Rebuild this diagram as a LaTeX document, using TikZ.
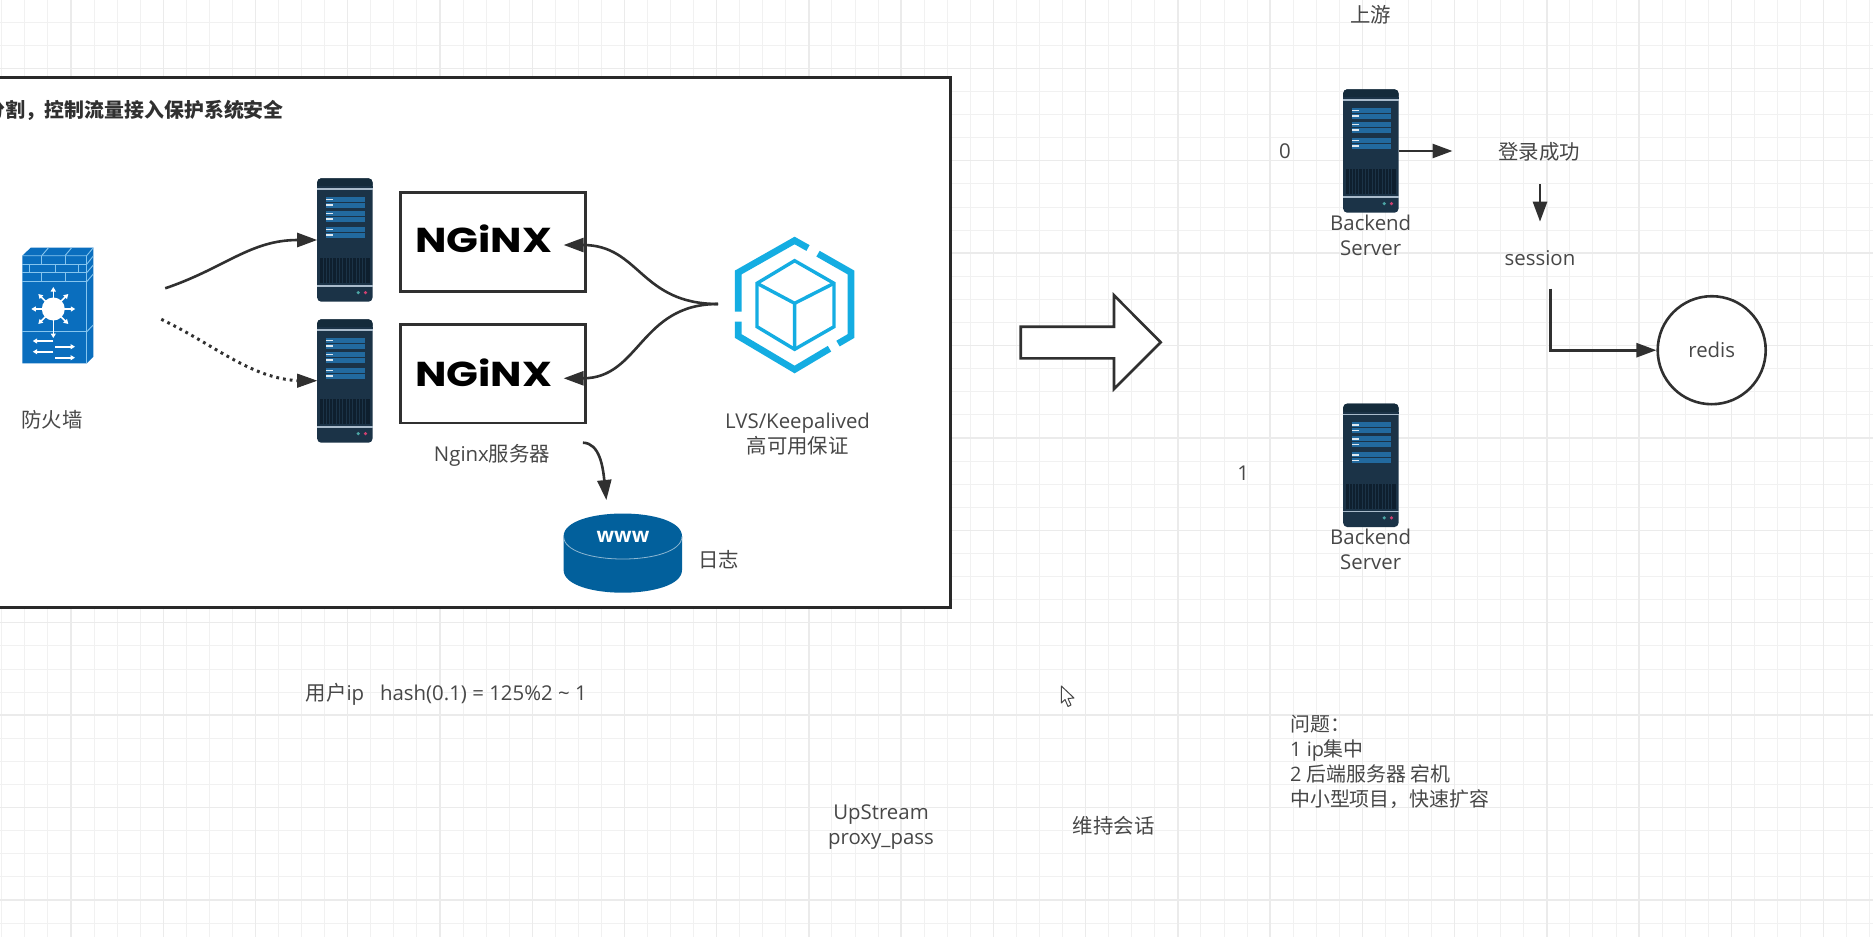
\documentclass[tikz,border=0pt]{standalone}
\usepackage{fontspec}
\usepackage{graphicx}
\usetikzlibrary{arrows.meta}
\setmainfont{Open Sans}
\newfontfamily\cjk{Noto Sans CJK SC}
\newfontfamily\logofont{Poppins}
\definecolor{txt}{HTML}{474747}
\definecolor{ink}{HTML}{303030}
\definecolor{gridmajor}{HTML}{EBEBEB}
\definecolor{gridminor}{HTML}{F1F1F1}
\definecolor{srvbody}{HTML}{1B3347}
\definecolor{srvtop}{HTML}{142B3B}
\definecolor{srvbar}{HTML}{226A9F}
\definecolor{srvline}{HTML}{A9BBCB}
\definecolor{srvvent}{HTML}{0E1F2E}
\definecolor{fwblue}{HTML}{0A6EBE}
\definecolor{fwline}{HTML}{86C5EE}
\definecolor{lvsblue}{HTML}{14ADE2}
\definecolor{dbblue}{HTML}{02609C}
\newcommand{\srvicon}[3]{%
  \begin{scope}[shift={(#2,#3)}]
    \fill[srvbody,rounded corners=4pt] (0,0) rectangle (55.3,123.4);
    \fill[srvtop,rounded corners=4pt] (0,0) rectangle (55.3,11);
    \fill[srvbody] (0,8) rectangle (55.3,11);
    \fill[srvline] (0,10) rectangle (55.3,11.8);
    \foreach \by in {18.3,32.3,48.3}{
      \fill[srvbar] (8.7,\by) rectangle (47.7,\by+11);
      \draw[srvbody,line width=.6pt] (8.7,\by+5.5) -- (47.7,\by+5.5);
      \fill[white!85!srvbar] (8.7,\by+2.2) rectangle (15.7,\by+3.6);
      \fill[white!85!srvbar] (8.7,\by+7.6) rectangle (15.7,\by+9);
    }
    \fill[srvvent] (2.7,80) rectangle (52.6,105);
    \foreach \vx in {5.7,9,...,50}{\draw[srvbody,line width=.7pt] (\vx,80) -- (\vx,105);}
    \fill[srvline] (0,107) rectangle (55.3,108.6);
    \fill[teal!70!white] (41,114.3) circle[radius=1.8];
    \fill[purple!75!white] (48.3,114.3) circle[radius=1.8];
    \node[srvhit,anchor=north west] (#1) at (0,0) {};
  \end{scope}}
\begin{document}
\begin{tikzpicture}[x=1pt,y=-1pt,
  every node/.style={font=\fontsize{20.4pt}{25pt}\selectfont,text=txt,inner sep=0pt,align=center},
  srvhit/.style={minimum width=55.3pt,minimum height=123.4pt,inner sep=0pt},
  minorline/.style={gridminor,line width=1pt},
  majorline/.style={gridmajor,line width=1.4pt},
  conn/.style={ink,line width=2.6pt,-{Triangle[length=20pt,width=14pt]}},
  connlv/.style={ink,line width=2.6pt,-{Triangle[length=20pt,width=14pt]}},
  dotline/.style={ink,line width=3pt,dash pattern=on 2.8pt off 4pt},
  solidbox/.style={draw=ink,line width=2.6pt,fill=white},
  fwstroke/.style={fwline,line width=.9pt},
  fwarrow/.style={white,line width=1.6pt,-{Triangle[length=4.5pt,width=5pt]}},
  lvsouter/.style={lvsblue,line width=6.6pt,miter limit=4},
  lvsinner/.style={lvsblue,line width=3.4pt,line join=miter},
]
\useasboundingbox (0,0) rectangle (1873,937);
\clip (0,0) rectangle (1873,937);
\fill[white] (0,0) rectangle (1873,937);
% grid
\foreach \i in {0,...,81}{\pgfmathsetmacro\gx{1.82+23.06*\i}\draw[minorline] (\gx,0) -- (\gx,937);}
\foreach \i in {0,...,40}{\pgfmathsetmacro\gy{-0.9+23.1*\i}\draw[minorline] (0,\gy) -- (1873,\gy);}
\foreach \i in {0,...,20}{\pgfmathsetmacro\gx{71+92.24*\i}\draw[majorline] (\gx,0) -- (\gx,937);}
\foreach \i in {0,...,9}{\pgfmathsetmacro\gy{68.3+92.4*\i}\draw[majorline] (0,\gy) -- (1873,\gy);}
% main panel
\draw[draw=ink!85!black,line width=3pt,fill=white] (-10,77.3) rectangle (950.4,607.2);
\node[font=\fontsize{19.9pt}{25pt}\selectfont\bfseries\cjk,text=ink,anchor=east] (title) at (284,110) {分割，控制流量接入保护系统安全};
% firewall
\fill[fwblue] (22.3,255.7) -- (30.7,247.7) -- (93.3,247.7) -- (93.3,356.7) -- (86.7,363.3) -- (22.3,363.3) -- cycle;
\draw[fwstroke] (22.3,255.7) -- (86.7,255.7) -- (93.3,247.7);
\draw[fwstroke] (86.7,255.7) -- (86.7,363.3);
\draw[fwstroke] (22.3,264.3) -- (86.7,264.3) (22.3,272.7) -- (86.7,272.7) (22.3,281.7) -- (86.7,281.7) (22.3,331.7) -- (86.7,331.7);
\draw[fwstroke] (41.7,255.7) -- (41.7,264.3) (65,255.7) -- (65,264.3);
\draw[fwstroke] (29.3,264.3) -- (29.3,272.7) (55,264.3) -- (55,272.7) (78.3,264.3) -- (78.3,272.7);
\draw[fwstroke] (41.7,272.7) -- (41.7,281.7) (65,272.7) -- (65,281.7);
\draw[fwstroke] (41.7,255.7) -- (48.5,247.7) (65,255.7) -- (71.7,247.7);
\draw[fwstroke] (86.7,264.3) -- (93.3,256) (86.7,272.7) -- (93.3,265) (86.7,281.7) -- (93.3,274) (86.7,331.7) -- (93.3,325);
\coordinate (fwc) at (53.3,309);
\foreach \dx/\dy in {0/-22,15/-15,22/0,15/15,-22/0,-15/15,-15/-15}{\draw[fwarrow] (fwc) -- ++(\dx,\dy);}
\draw[fwarrow] (fwc) -- ++(0,29);
\fill[white] (fwc) circle[radius=11.5];
\draw[fwarrow] (53.3,341) -- (32.7,341);
\draw[fwarrow] (55,346.7) -- (75,346.7);
\draw[fwarrow] (53.3,351.7) -- (32.7,351.7);
\draw[fwarrow] (55,357.7) -- (75,357.7);
\node (fwlabel) at (52,420) {\cjk 防火墙};
\coordinate (fwouta) at (165.2,288.3);
\coordinate (fwoutb) at (161.3,319.3);
% servers
\srvicon{srva}{317.2}{178.3}
\srvicon{srvb}{317.2}{319.3}
\srvicon{backa}{1343.2}{89.3}
\srvicon{backb}{1343.2}{403.6}
% nginx
\node[solidbox,minimum width=185pt,minimum height=99pt,anchor=north west] (ngxa) at (399.2,191) {};
\node[solidbox,minimum width=185pt,minimum height=98.4pt,anchor=north west] (ngxb) at (399.2,323.3) {};
\node[text=black] (logoa) at (483.8,238.8) {\resizebox{137pt}{27.7pt}{\logofont\bfseries NGiNX}};
\node[text=black] (logob) at (483.8,373) {\resizebox{137pt}{27.7pt}{\logofont\bfseries NGiNX}};
\node (ngxlabel) at (492,455) {Nginx{\cjk 服务器}};
% LVS
\draw[lvsouter] (808,248) -- (794.6,240.5) -- (738.2,272.5) -- (738.2,311.7);
\draw[lvsouter] (738.2,321.7) -- (738.2,336) -- (794.6,369.5) -- (829.5,348.7);
\draw[lvsouter] (838,343.6) -- (851,336) -- (851,272.5) -- (818,253.7);
\draw[lvsinner] (794.6,260.7) -- (834,283.3) -- (834,326.7) -- (794.6,349.3) -- (757,326.7) -- (757,283.3) -- cycle;
\draw[lvsinner] (757,283.3) -- (794.6,303.3) -- (834,283.3) (794.6,303.3) -- (794.6,349.3);
\node (lvslabel) at (797.6,434.2) {LVS/Keepalived\\{\cjk 高可用保证}};
\coordinate (lvsout) at (718,304);
\coordinate (ngxinb) at (563.6,378.3);
\coordinate (ngxina) at (563.6,245);
% www
\fill[dbblue] (563.6,536.3) .. controls (563.6,505.9) and (682,505.9) .. (682,536.3) -- (682,570) .. controls (682,600.3) and (563.6,600.3) .. (563.6,570) -- cycle;
\draw[white!55!dbblue,line width=.8pt] (563.6,536.3) .. controls (563.6,566.6) and (682,566.6) .. (682,536.3);
\node[font=\fontsize{20.5pt}{22pt}\selectfont\bfseries,text=white] (www) at (623,536.7) {www};
\node (loglabel) at (718.7,560) {\cjk 日志};
\coordinate (logfrom) at (582.9,442.7);
\coordinate (logto) at (606.4,500);
% connectors in the panel
\draw[connlv] (fwouta) .. controls (225,268) and (250,240) .. (srva.west |- 0,240);
\draw[dotline] (fwoutb) .. controls (215,345) and (250,378) .. (298,380.7);
\coordinate (dottedtip) at (298,380.7);
\draw[ink,-{Triangle[length=20pt,width=14pt]},line width=1pt] (dottedtip) -- (srvb.west |- 0,380.7);
\draw[connlv] (lvsout) .. controls (640,304) and (640,245) .. (ngxina);
\draw[connlv] (lvsout) .. controls (640,304) and (640,378.3) .. (ngxinb);
\draw[connlv] (logfrom) .. controls (600,443) and (603,468) .. (logto);
% hollow arrow
\draw[draw=ink,line width=2.6pt,fill=white,line join=miter] (1020.7,326.7) -- (1114,326.7) -- (1114,295.3) -- (1160.7,342.3) -- (1114,389) -- (1114,358.3) -- (1020.7,358.3) -- cycle;
% right side
\node (up) at (1370.7,15) {\cjk 上游};
\node (zero) at (1285,151.7) {0};
\node (one) at (1243.3,473.3) {1};
\node (backalabel) at (1370.7,235.5) {Backend\\Server};
\node (backblabel) at (1370.7,549) {Backend\\Server};
\node (login) at (1539.3,152.3) {\cjk 登录成功};
\node (sess) at (1540,258.3) {session};
\node[circle,draw=ink,line width=2.6pt,fill=white,minimum size=108pt] (redis) at (1711.7,350.2) {redis};
\coordinate (loginin) at (1452.5,151);
\coordinate (sessfrom) at (1540,184.3);
\coordinate (sessto) at (1540,221.7);
\coordinate (redisfrom) at (1550.7,288.7);
\draw[conn] (backa.east |- 0,151) -- (loginin);
\draw[conn] (sessfrom) -- (sessto);
\draw[conn,rounded corners=0pt] (redisfrom) |- (redis.west);
% notes
\node[anchor=west] (hashnote) at (305.5,694) {{\cjk 用户}ip\ \ \ hash(0.1) = 125\%2 \textasciitilde{} 1};
\node (upstream) at (881,827.2) {UpStream\\proxy\_pass};
\node (keep) at (1113.6,825.5) {\cjk 维持会话};
\node[anchor=north west,align=left,font=\fontsize{19.9pt}{25pt}\selectfont] (issues) at (1290,714.5) {{\cjk 问题：}\\1 ip{\cjk 集中}\\2 {\cjk 后端服务器 宕机}\\{\cjk 中小型项目，快速扩容}};
% cursor
\draw[fill=white,draw=txt,line width=1pt,line join=round] (1061.3,686) -- (1061.3,703) -- (1065,699.5) -- (1068,706.5) -- (1071,705) -- (1068,698.5) -- (1074,698) -- cycle;
\end{tikzpicture}
\end{document}
